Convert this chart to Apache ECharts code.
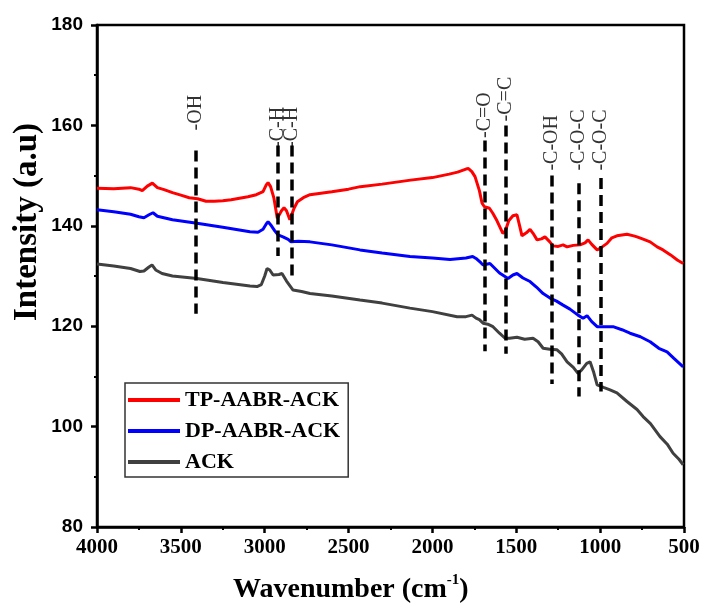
<!DOCTYPE html>
<html>
<head>
<meta charset="utf-8">
<script src="https://cdn.jsdelivr.net/npm/echarts@6/dist/echarts.min.js"></script>
<style>
  html, body { margin: 0; padding: 0; background: #fff; }
  #chart { width: 704px; height: 610px; }
</style>
</head>
<body>
<div id="chart"></div>
<script>
// FTIR spectra (wavenumber cm-1, intensity a.u)
const tpWave = [4000, 3900, 3800, 3750, 3730, 3700, 3670, 3640, 3600, 3550, 3500, 3450, 3400, 3350, 3300, 3250, 3200, 3150, 3100, 3050, 3010, 2990, 2980, 2965, 2945, 2925, 2915, 2900, 2885, 2870, 2850, 2840, 2825, 2805, 2770, 2730, 2600, 2500, 2430, 2300, 2130, 2000, 1900, 1850, 1800, 1785, 1765, 1746, 1720, 1704, 1690, 1660, 1640, 1615, 1580, 1565, 1545, 1520, 1496, 1480, 1466, 1440, 1418, 1400, 1376, 1350, 1329, 1300, 1281, 1250, 1221, 1197, 1160, 1120, 1090, 1072, 1050, 1018, 1000, 959, 930, 900, 840, 800, 780, 740, 702, 660, 625, 580, 540, 505];
const tpInt = [147.5, 147.4, 147.6, 147.3, 147.0, 147.9, 148.5, 147.6, 147.2, 146.6, 146.1, 145.6, 145.4, 144.9, 144.9, 145.0, 145.2, 145.5, 145.8, 146.2, 146.8, 148.2, 148.6, 147.8, 145.5, 141.5, 141.3, 143.0, 143.6, 143.0, 141.2, 141.5, 143.5, 144.8, 145.6, 146.2, 146.8, 147.3, 147.8, 148.3, 149.1, 149.6, 150.3, 150.7, 151.3, 151.4, 150.8, 149.8, 147.0, 144.5, 143.8, 143.5, 142.5, 141.0, 138.5, 139.0, 141.0, 142.0, 142.2, 140.0, 138.0, 138.6, 139.3, 138.5, 137.2, 137.4, 137.8, 136.8, 136.0, 135.9, 136.2, 135.8, 136.1, 136.2, 136.6, 137.2, 136.3, 135.2, 135.5, 136.5, 137.6, 138.0, 138.3, 138.0, 137.8, 137.3, 136.8, 135.8, 135.2, 134.2, 133.2, 132.5];

const dpWave = [4000, 3900, 3800, 3750, 3720, 3690, 3666, 3640, 3550, 3404, 3250, 3088, 3040, 3010, 2990, 2980, 2960, 2940, 2921, 2891, 2860, 2843, 2800, 2730, 2600, 2432, 2300, 2134, 2000, 1895, 1800, 1760, 1740, 1710, 1698, 1657, 1630, 1600, 1549, 1520, 1496, 1460, 1418, 1380, 1340, 1299, 1260, 1221, 1180, 1132, 1102, 1078, 1050, 1018, 980, 923, 870, 822, 760, 702, 650, 601, 560, 505];
const dpInt = [143.2, 142.8, 142.3, 141.8, 141.6, 142.2, 142.6, 141.9, 141.2, 140.5, 139.7, 138.8, 138.7, 139.3, 140.4, 140.8, 140.0, 139.0, 138.2, 137.8, 137.3, 136.8, 136.9, 136.8, 136.2, 135.2, 134.6, 133.9, 133.6, 133.3, 133.6, 133.9, 133.5, 132.6, 132.2, 132.5, 131.6, 130.6, 129.5, 130.2, 130.5, 129.6, 128.9, 127.8, 126.5, 125.6, 125.0, 124.2, 123.4, 122.2, 121.6, 122.1, 120.9, 119.9, 119.9, 119.9, 119.3, 118.6, 117.9, 116.9, 115.6, 114.9, 113.6, 111.9];

const ackWave = [4000, 3900, 3800, 3744, 3720, 3690, 3672, 3650, 3612, 3550, 3404, 3249, 3088, 3046, 3020, 3000, 2986, 2970, 2950, 2939, 2915, 2897, 2870, 2831, 2780, 2730, 2600, 2432, 2300, 2134, 2000, 1853, 1800, 1764, 1740, 1720, 1698, 1670, 1639, 1600, 1567, 1540, 1496, 1450, 1400, 1370, 1340, 1300, 1257, 1230, 1197, 1160, 1132, 1110, 1080, 1060, 1040, 1018, 980, 941, 900, 840, 780, 744, 700, 643, 600, 565, 530, 505];
const ackInt = [132.4, 132.0, 131.5, 130.9, 131.0, 131.8, 132.2, 131.2, 130.5, 130.0, 129.5, 128.7, 128.0, 127.9, 128.3, 130.0, 131.5, 131.2, 130.2, 129.9, 130.3, 130.5, 129.0, 127.2, 126.9, 126.5, 126.0, 125.2, 124.6, 123.6, 122.9, 121.9, 121.9, 122.2, 121.6, 121.3, 120.6, 120.4, 119.9, 118.6, 117.6, 117.6, 117.8, 117.4, 117.6, 116.9, 115.6, 115.4, 115.3, 114.5, 112.9, 111.8, 110.6, 111.3, 112.6, 112.9, 111.0, 108.3, 107.8, 107.3, 106.7, 105.0, 103.4, 102.0, 100.6, 98.0, 96.5, 94.7, 93.5, 92.4];

// band assignments: dashed marker lines and their labels
const bandLabels = ['-OH', '-C-H', '-C-H', '-C=O', '-C=C', '-C-OH', '-C-O-C', '-C-O-C'];
const bandWave = [3410, 2920, 2840, 1690, 1560, 1290, 1125, 995];
const bandTop = [155, 156, 156, 157, 160, 150, 148.5, 149.5];
const bandBottom = [122.5, 134, 130, 115, 114.5, 108.5, 106, 107];
const bandLabelBase = [159, 155.5, 155.5, 157.5, 160.8, 151, 151, 151];

const xTicks = [4000, 3500, 3000, 2500, 2000, 1500, 1000, 500];
const yTicks = [80, 100, 120, 140, 160, 180];

const zip = (a, b) => a.map((v, i) => [v, b[i]]);
const serif = "'Liberation Serif', 'Times New Roman', serif";

const chart = echarts.init(document.getElementById('chart'));

const option = {
  backgroundColor: '#ffffff',
  animation: false,
  grid: {
    left: 97,
    right: 20,
    top: 25,
    bottom: 83,
    show: true,
    borderColor: '#000',
    borderWidth: 2.5,
  },
  legend: {
    orient: 'vertical',
    left: 125,
    top: 383,
    data: ['TP-AABR-ACK', 'DP-AABR-ACK', 'ACK'],
    icon: 'rect',
    itemWidth: 52,
    itemHeight: 4,
    itemGap: 9,
    padding: [6, 8, 4, 3],
    borderColor: '#333',
    borderWidth: 1.5,
    textStyle: {
      fontFamily: serif,
      fontWeight: 'bold',
      fontSize: 22,
      color: '#000',
    },
  },
  xAxis: {
    type: 'value',
    min: 500,
    max: 4000,
    interval: 500,
    inverse: true,
    axisLine: { lineStyle: { color: '#000', width: 2.5 } },
    axisTick: { inside: false, length: 6, lineStyle: { width: 2.5, color: '#000' } },
    minorTick: { show: true, splitNumber: 2, length: 3, lineStyle: { width: 2, color: '#000' } },
    splitLine: { show: false },
    axisLabel: {
      margin: 10,
      fontFamily: serif,
      fontWeight: 'bold',
      fontSize: 21,
      color: '#000',
      formatter: v => (xTicks.includes(v) ? String(v) : ''),
    },
  },
  yAxis: {
    type: 'value',
    min: 80,
    max: 180,
    interval: 20,
    axisLine: { show: true, lineStyle: { color: '#000', width: 2.5 } },
    axisTick: { show: true, inside: false, length: 6, lineStyle: { width: 2.5, color: '#000' } },
    minorTick: { show: true, splitNumber: 2, length: 3, lineStyle: { width: 2, color: '#000' } },
    splitLine: { show: false },
    axisLabel: {
      margin: 14,
      fontFamily: "'Liberation Sans', Arial, sans-serif",
      fontWeight: 'bold',
      fontSize: 19,
      color: '#000',
      formatter: v => (yTicks.includes(v) ? String(v) : ''),
    },
  },
  series: [
    {
      name: 'TP-AABR-ACK',
      type: 'line',
      data: zip(tpWave, tpInt),
      showSymbol: false,
      color: '#ff0000',
      lineStyle: { width: 3, color: '#ff0000' },
      z: 3,
    },
    {
      name: 'DP-AABR-ACK',
      type: 'line',
      data: zip(dpWave, dpInt),
      showSymbol: false,
      color: '#0000ff',
      lineStyle: { width: 3, color: '#0000ff' },
      z: 3,
    },
    {
      name: 'ACK',
      type: 'line',
      data: zip(ackWave, ackInt),
      showSymbol: false,
      color: '#404040',
      lineStyle: { width: 3, color: '#404040' },
      z: 3,
    },
    {
      name: 'bands',
      type: 'lines',
      coordinateSystem: 'cartesian2d',
      data: bandWave.map((w, i) => ({ coords: [[w, bandTop[i]], [w, bandBottom[i]]] })),
      lineStyle: { color: '#000', width: 3.5, type: [11, 6], opacity: 1 },
      silent: true,
      z: 4,
    },
    {
      name: 'bandLabels',
      type: 'scatter',
      data: bandWave.map((w, i) => ({ value: [w, bandLabelBase[i]], name: bandLabels[i] })),
      symbolSize: 0,
      silent: true,
      label: {
        show: true,
        position: [0, 0],
        rotate: 90,
        align: 'left',
        verticalAlign: 'middle',
        formatter: p => p.name,
        fontFamily: serif,
        fontSize: 20,
        color: '#000',
      },
      z: 5,
    },
  ],
  graphic: [
    {
      type: 'text',
      left: 233,
      top: 573,
      style: {
        text: '{a|Wavenumber (cm}{s|-1}{a|)}',
        rich: {
          a: { fontFamily: serif, fontWeight: 'bold', fontSize: 28, color: '#000', lineHeight: 34 },
          s: { fontFamily: serif, fontWeight: 'bold', fontSize: 15, color: '#000', verticalAlign: 'top', lineHeight: 34 },
        },
      },
    },
    {
      type: 'text',
      x: 27,
      y: 222,
      rotation: Math.PI / 2,
      style: {
        text: 'Intensity (a.u)',
        fontFamily: serif,
        fontWeight: 'bold',
        fontSize: 33,
        fill: '#000',
        align: 'center',
        verticalAlign: 'middle',
      },
    },
  ],
};

chart.setOption(option);
</script>
</body>
</html>
